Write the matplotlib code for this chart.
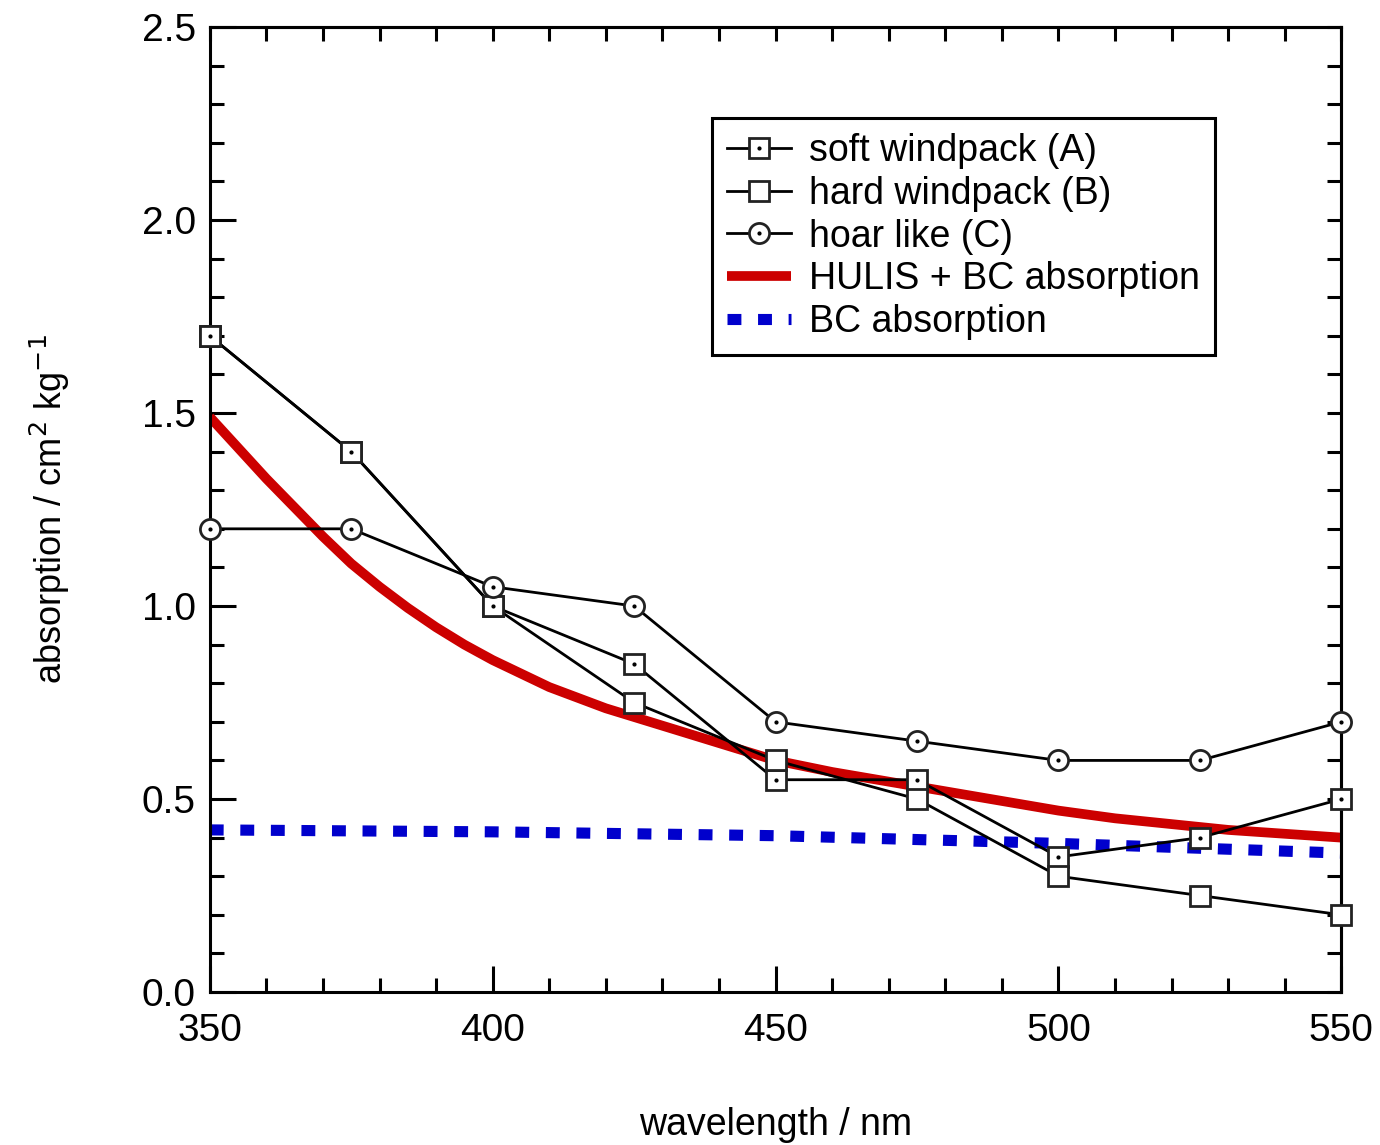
import matplotlib
matplotlib.use("Agg")
import matplotlib.pyplot as plt
from matplotlib.ticker import MultipleLocator
from matplotlib.legend_handler import HandlerTuple

plt.rcParams['font.family'] = ['Liberation Sans', 'DejaVu Sans']

# measured series
wl = [350, 375, 400, 425, 450, 475, 500, 525, 550]
soft_a = [1.7, 1.4, 1.0, 0.85, 0.55, 0.55, 0.35, 0.4, 0.5]
hard_b = [1.7, 1.4, 1.0, 0.75, 0.6, 0.5, 0.3, 0.25, 0.2]
hoar_c = [1.2, 1.2, 1.05, 1.0, 0.7, 0.65, 0.6, 0.6, 0.7]

# modelled curves
wl_model = [350, 355, 360, 365, 370, 375, 380, 385, 390, 395, 400, 410, 420, 430, 440, 450,
            460, 470, 480, 490, 500, 510, 520, 530, 540, 550]
hulis_bc = [1.49, 1.41, 1.33, 1.255, 1.18, 1.11, 1.05, 0.995, 0.945, 0.90, 0.86, 0.79,
            0.735, 0.69, 0.645, 0.60, 0.57, 0.545, 0.52, 0.495, 0.47, 0.45, 0.435, 0.42, 0.41, 0.40]
wl_bc = [350, 400, 450, 500, 550]
bc_only = [0.42, 0.415, 0.405, 0.385, 0.36]

fig = plt.figure(figsize=(13.8, 11.45), dpi=100)
ax = fig.add_axes([0.152, 0.1336, 0.820, 0.8428])

red, = ax.plot(wl_model, hulis_bc, color='#cc0000', lw=7, solid_capstyle='butt',
               solid_joinstyle='round', zorder=2)
blue, = ax.plot(wl_bc, bc_only, color='#0000cc', lw=8, linestyle=(0, (1.25, 1.5)),
                dash_capstyle='butt', zorder=2)

mk = dict(color='black', lw=2, markersize=14.5, markerfacecolor='white',
          markeredgecolor='#222222', markeredgewidth=2, zorder=3, clip_on=False)
dot = dict(ls='none', marker='o', markersize=2, color='black', zorder=4, clip_on=False)

la, = ax.plot(wl, soft_a, marker='s', **mk)
da, = ax.plot(wl, soft_a, **dot)
lb, = ax.plot(wl, hard_b, marker='s', **mk)
lc, = ax.plot(wl, hoar_c, marker='o', **mk)
dc, = ax.plot(wl, hoar_c, **dot)

ax.set_xlim(350, 550)
ax.set_ylim(0, 2.5)
ax.xaxis.set_major_locator(MultipleLocator(50))
ax.xaxis.set_minor_locator(MultipleLocator(10))
ax.yaxis.set_major_locator(MultipleLocator(0.5))
ax.yaxis.set_minor_locator(MultipleLocator(0.1))
ax.yaxis.set_major_formatter(matplotlib.ticker.FormatStrFormatter('%.1f'))

ax.tick_params(which='both', direction='in', width=2.2, labelsize=28, top=False, right=False)
ax.tick_params(which='major', length=19)
ax.tick_params(axis='x', which='major', pad=15)
ax.tick_params(axis='y', which='major', pad=10)
ax.tick_params(which='minor', length=10)
for s in ax.spines.values():
    s.set_linewidth(2.2)

# short ticks on top and right
top = ax.secondary_xaxis('top')
top.xaxis.set_major_locator(MultipleLocator(10))
top.tick_params(direction='in', length=10, width=2.2, labeltop=False)
top.spines['top'].set_linewidth(2.2)
right = ax.secondary_yaxis('right')
right.yaxis.set_major_locator(MultipleLocator(0.1))
right.tick_params(direction='in', length=10, width=2.2, labelright=False)
right.spines['right'].set_linewidth(2.2)

ax.set_xlabel('wavelength / nm', fontsize=27, labelpad=42)
ax.set_ylabel('absorption / cm$^{2}$ kg$^{-1}$', fontsize=26, labelpad=50)

leg = ax.legend([(la, da), lb, (lc, dc), red, blue],
                ['soft windpack (A)', 'hard windpack (B)', 'hoar like (C)',
                 'HULIS + BC absorption', 'BC absorption'],
                handler_map={tuple: HandlerTuple(ndivide=1)},
                loc='upper right', bbox_to_anchor=(0.8886, 0.9057), fontsize=27,
                fancybox=False, edgecolor='black', framealpha=1,
                handlelength=1.73, handletextpad=0.48, labelspacing=0.18,
                borderpad=0.4, borderaxespad=0)
leg.get_frame().set_linewidth(2.2)

fig.savefig('out.png', dpi=100)
